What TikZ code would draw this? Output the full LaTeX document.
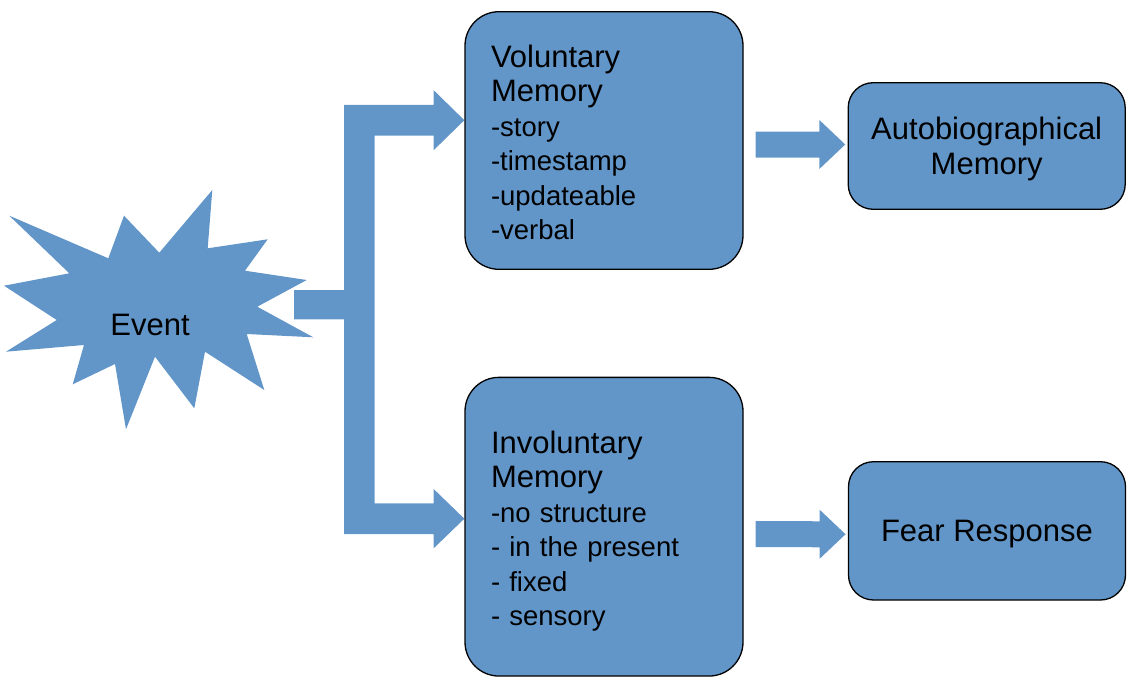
\documentclass[tikz,border=0pt]{standalone}
\usepackage{fontspec}
\setmainfont{Liberation Sans}
\usetikzlibrary{calc}
\definecolor{memblue}{RGB}{98,150,201}
\newcommand{\titlesize}{\fontsize{31}{34.5}\selectfont}
\newcommand{\itemsize}{\fontsize{27.5}{34.5}\selectfont}
% fat horizontal arrow from #1 to the tip #2
\newcommand{\fatarrow}[2]{%
  \fill[memblue] ($(#1)+(0,-13)$) -- ($(#2)+(-26,-13)$) -- ($(#2)+(-26,-24.6)$) -- (#2)
    -- ($(#2)+(-26,24.6)$) -- ($(#2)+(-26,13)$) -- ($(#1)+(0,13)$) -- cycle;}
\begin{document}
\begin{tikzpicture}[x=1pt, y=-1pt,
    membox/.style={draw=black, line width=1.3pt, fill=memblue, rounded corners=34pt,
        minimum width=278pt, text depth=169pt, inner xsep=26pt, text width=226pt,
        align=left, font=\itemsize},
    endbox/.style={draw=black, line width=1.3pt, fill=memblue, rounded corners=25pt,
        minimum width=277pt, text depth=0pt, align=center, font=\titlesize}]
    \useasboundingbox (0,0) rectangle (1133,688);
    % the event burst
    \fill[memblue] (9.3,215.7) -- (108.3,258.3) -- (124,215.7) -- (159.3,252.7) -- (212.3,190)
        -- (207.7,248.3) -- (267.7,239.3) -- (245,270.7) -- (306.7,280) -- (257.3,306.7)
        -- (313.3,337.3) -- (246.7,334) -- (264.3,390) -- (205,351.7) -- (194.3,408.3)
        -- (155,356.7) -- (126,429.3) -- (115,364) -- (72.7,384.3) -- (84,345)
        -- (6,351.7) -- (56.7,320) -- (4,285.7) -- (69.3,273.3) -- cycle;
    \node[font=\titlesize, anchor=base, inner sep=0pt] (ev) at (150,335) {Event};
    \coordinate (burst) at (294,304.7);
    % memory boxes
    \node[membox, minimum height=257.6pt] (vol) at (604,140.5)
        {\titlesize Voluntary\\Memory\\\itemsize -story\\-timestamp\\-updateable\\-verbal};
    \node[membox, minimum height=298.7pt] (invol) at (604,526.7)
        {\titlesize Involuntary\\Memory\\\itemsize -no structure\\- in the present\\- fixed\\- sensory};
    \node[endbox, minimum height=126.6pt] (auto) at (986.7,146) {Autobiographical\\Memory};
    \node[endbox, minimum height=138.3pt] (fear) at (987,530.85) {Fear Response};
    % split arrow from the event
    \coordinate (vtip) at ($(vol.west)+(0,-20.3)$);
    \coordinate (itip) at ($(invol.west)+(0,-8)$);
    \coordinate (vh) at ($(vtip)+(-30.7,0)$);
    \coordinate (ih) at ($(itip)+(-30.7,0)$);
    \fill[memblue] ($(burst)+(0,-14.7)$) -- ($(burst)+(50,-14.7)$) |- ($(vh)+(0,-15.3)$)
        -- ($(vh)+(0,-30)$) -- (vtip) -- ($(vh)+(0,30)$) -- ($(vh)+(0,15.3)$)
        -| ($(burst)+(80.7,0)$) |- ($(ih)+(0,-15.3)$) -- ($(ih)+(0,-29.7)$) -- (itip)
        -- ($(ih)+(0,29.6)$) -- ($(ih)+(0,15.3)$) -| ($(burst)+(50,14.6)$)
        -- ($(burst)+(0,14.6)$) -- cycle;
    % arrows to the outcomes
    \coordinate (va) at ($(vol.east)+(12,4)$);
    \coordinate (vb) at ($(auto.west)+(-2.3,-1.5)$);
    \coordinate (fa) at ($(invol.east)+(12,7.5)$);
    \coordinate (fb) at ($(fear.west)+(-2.3,3.4)$);
    \fatarrow{va}{vb}
    \fatarrow{fa}{fb}
\end{tikzpicture}
\end{document}
